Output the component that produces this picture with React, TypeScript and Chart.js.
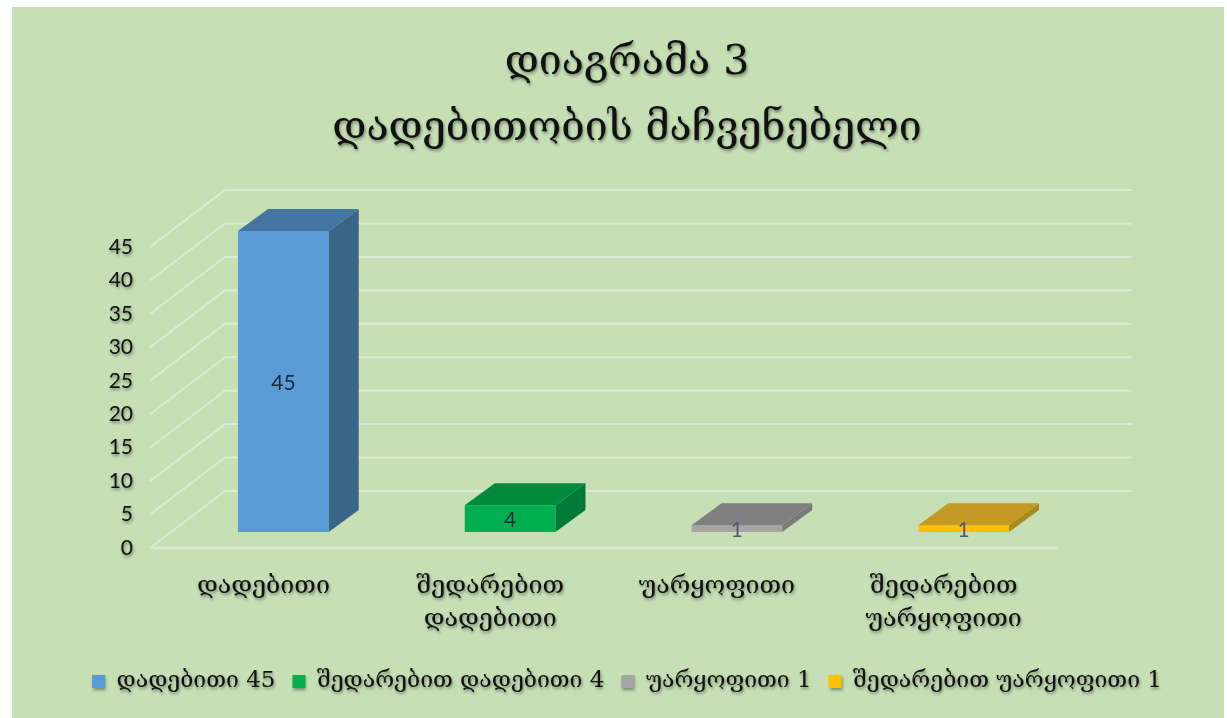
import React, { useEffect, useRef } from "react";
import { Chart, registerables } from "chart.js";

Chart.register(...registerables);

const categories: (string | string[])[] = [
  "დადებითი",
  ["შედარებით", "დადებითი"],
  "უარყოფითი",
  ["შედარებით", "უარყოფითი"],
];
const values = [45, 4, 1, 1];
const legendLabels = ["დადებითი 45", "შედარებით დადებითი 4", "უარყოფითი 1", "შედარებით უარყოფითი 1"];
const titleLines = ["დიაგრამა 3", "დადებითობის მაჩვენებელი"];
const frontColors = ["#5B9BD5", "#00B050", "#A5A5A5", "#FFC000"];
const sideColors = ["#3B6489", "#007A37", "#7A7A7A", "#A68A1A"];
const topColors = ["#4475A1", "#008A3E", "#7F7F7F", "#C49A22"];
const labelColors = ["#1B2838", "#1B2838", "#4A5A70", "#4A5A70"];

const SERIF = '"DejaVu Serif", serif';
const BG = "#C6DFB5";
const GRID = "#DDEBD6";
const WALL = { dx: 75, dy: -57 };
const BAR_SHIFT = { dx: 20, dy: -16 };
const DEPTH = { dx: 30, dy: -22 };

const chart3d = {
  id: "chart3d",
  beforeDraw(chart: any) {
    const { ctx, chartArea: a, scales } = chart;
    ctx.save();
    ctx.fillStyle = "#FFFFFF";
    ctx.fillRect(0, 0, chart.width, chart.height);
    ctx.fillStyle = BG;
    ctx.fillRect(12, 7, chart.width - 15, chart.height - 7);
    ctx.strokeStyle = GRID;
    ctx.lineWidth = 2;
    const y = scales.y;
    for (const t of y.ticks) {
      const py = y.getPixelForValue(t.value);
      ctx.beginPath();
      ctx.moveTo(a.left, py);
      ctx.lineTo(a.left + WALL.dx, py + WALL.dy);
      ctx.lineTo(a.right + WALL.dx, py + WALL.dy);
      ctx.stroke();
    }
    const p0 = y.getPixelForValue(0);
    ctx.beginPath();
    ctx.moveTo(a.left, p0);
    ctx.lineTo(a.right, p0);
    ctx.stroke();
    ctx.restore();
    ctx.shadowColor = "rgba(0,0,0,0.4)";
    ctx.shadowBlur = 3;
    ctx.shadowOffsetX = 1;
    ctx.shadowOffsetY = 2;
  },
  beforeDatasetsDraw(chart: any) {
    const { ctx } = chart;
    ctx.shadowColor = "transparent";
    ctx.shadowBlur = 0;
    ctx.shadowOffsetX = 0;
    ctx.shadowOffsetY = 0;
  },
  beforeDatasetDraw(chart: any) {
    const { ctx } = chart;
    ctx.save();
    ctx.translate(BAR_SHIFT.dx, BAR_SHIFT.dy);
  },
  afterDatasetDraw(chart: any, args: any) {
    const { ctx } = chart;
    args.meta.data.forEach((el: any, i: number) => {
      const l = el.x - el.width / 2;
      const r = el.x + el.width / 2;
      ctx.fillStyle = sideColors[i];
      ctx.beginPath();
      ctx.moveTo(r, el.y);
      ctx.lineTo(r + DEPTH.dx, el.y + DEPTH.dy);
      ctx.lineTo(r + DEPTH.dx, el.base + DEPTH.dy);
      ctx.lineTo(r, el.base);
      ctx.closePath();
      ctx.fill();
      ctx.fillStyle = topColors[i];
      ctx.beginPath();
      ctx.moveTo(l, el.y);
      ctx.lineTo(l + DEPTH.dx, el.y + DEPTH.dy);
      ctx.lineTo(r + DEPTH.dx, el.y + DEPTH.dy);
      ctx.lineTo(r, el.y);
      ctx.closePath();
      ctx.fill();
    });
    ctx.font = "21px Lato";
    ctx.textAlign = "center";
    ctx.textBaseline = "middle";
    args.meta.data.forEach((el: any, i: number) => {
      ctx.fillStyle = labelColors[i];
      ctx.fillText(String(values[i]), el.x, (el.y + el.base) / 2 + 2);
    });
    ctx.restore();
  },
};

export default function App() {
  const ref = useRef<HTMLCanvasElement>(null);
  useEffect(() => {
    document.body.style.margin = "0";
    const chart = new Chart(ref.current!, {
      type: "bar",
      plugins: [chart3d],
      data: {
        labels: categories as any,
        datasets: [
          {
            label: "მაჩვენებელი",
            data: values,
            backgroundColor: frontColors,
            barPercentage: 0.4,
            categoryPercentage: 1,
            clip: false as any,
          },
        ],
      },
      options: {
        animation: false,
        responsive: false,
        layout: { padding: { left: 27, right: 0, top: 0, bottom: 15 } },
        plugins: {
          tooltip: { enabled: false },
          title: {
            display: true,
            text: titleLines,
            color: "#111111",
            font: { family: SERIF, size: 41, weight: "normal", lineHeight: 1.61 },
            padding: { top: 30, bottom: 85 },
          },
          legend: {
            position: "bottom",
            labels: {
              color: "#111111",
              font: { family: SERIF, size: 23 },
              boxWidth: 13,
              boxHeight: 13,
              padding: 17,
              generateLabels: () =>
                legendLabels.map((text, i) => ({
                  text,
                  fillStyle: frontColors[i],
                  strokeStyle: frontColors[i],
                  lineWidth: 0,
                  index: i,
                  fontColor: "#111111",
                })),
            },
          },
        },
        scales: {
          x: {
            grid: { display: false },
            border: { display: false },
            afterFit: (s: any) => {
              s.height = 105;
            },
            ticks: {
              color: "#111111",
              autoSkip: false,
              maxRotation: 0,
              padding: 14,
              font: { family: SERIF, size: 25, lineHeight: 1.32 },
            },
          },
          y: {
            min: 0,
            max: 45,
            grid: { display: false },
            border: { display: false },
            afterFit: (s: any) => {
              s.width = 123;
            },
            ticks: {
              stepSize: 5,
              color: "#111111",
              padding: 9,
              font: { family: "Lato", size: 21 },
            },
          },
          rightGap: {
            position: "right",
            display: true,
            grid: { display: false },
            border: { display: false },
            ticks: { display: false },
            afterFit: (s: any) => {
              s.width = 170;
            },
          },
        } as any,
      },
    } as any);
    return () => chart.destroy();
  }, []);
  return (
    <canvas
      ref={ref}
      width={1227}
      height={718}
      style={{ display: "block", width: 1227, height: 718, filter: "blur(0.5px)" }}
    />
  );
}
